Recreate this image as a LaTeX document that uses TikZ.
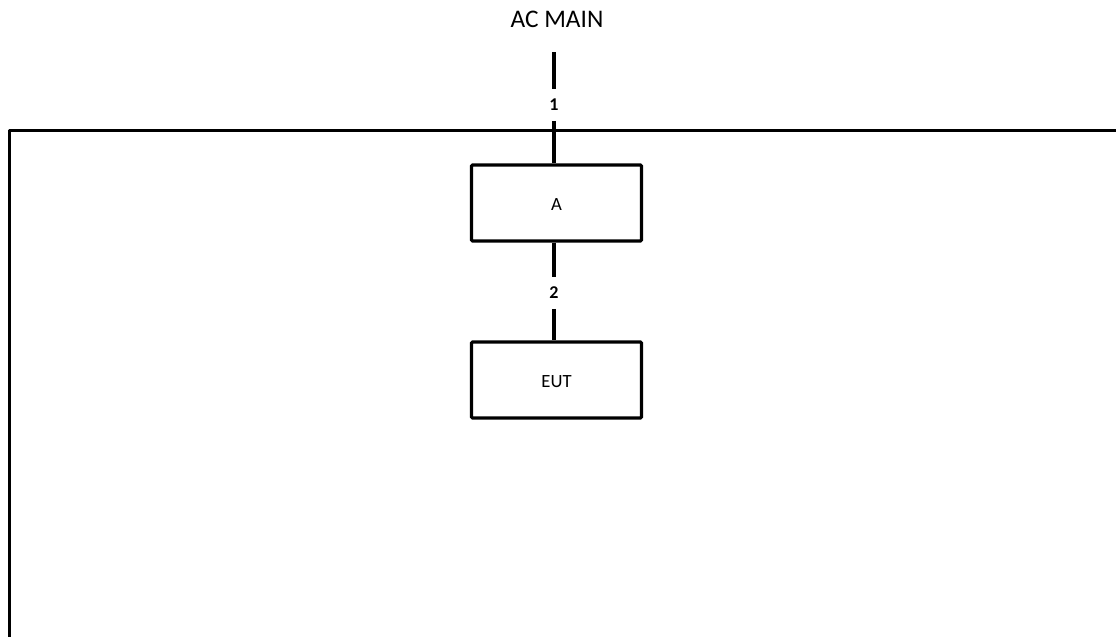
\documentclass[tikz,border=0pt]{standalone}
\usepackage{fontspec}
\setmainfont{Carlito}
\begin{document}
\begin{tikzpicture}[x=0.75pt,y=-0.75pt,
  thick line/.style={line width=2.3pt},
  unitbox/.style={draw,line width=2.3pt,minimum width=170*0.75pt,minimum height=76*0.75pt,inner sep=0pt,rounded corners=0.8pt},
  boxtext/.style={inner sep=0pt,font=\fontsize{14}{15}\selectfont},
  wirelabel/.style={inner sep=0pt,minimum height=31*0.75pt,minimum width=14*0.75pt,font=\bfseries\fontsize{13.5}{14}\selectfont},
  title/.style={font=\fontsize{19}{20}\selectfont,inner sep=0pt}]
\useasboundingbox (0,0) rectangle (1116,636);
\node[title] (acmain) at (557,19) {AC MAIN};
\coordinate (wtop) at (554,52);
\node[wirelabel] (l1) at (554,105) {1};
\node[unitbox] (a) at (556.5,203) {};
\node[boxtext] (at) at (556.5,205) {A};
\node[wirelabel] (l2) at (554,293) {2};
\node[unitbox] (eut) at (556.5,380) {};
\node[boxtext] (eutt) at (556.5,381.5) {EUT};
\coordinate (fr) at (1120,130.5);
\coordinate (fc) at (9.5,130.5);
\coordinate (fb) at (9.5,640);
\draw[thick line,line join=round] (fr) -- (fc) -- (fb);
\draw[thick line] (wtop) -- (l1.north);
\draw[thick line] (l1.south) -- (l1.south |- a.north);
\draw[thick line] (l2.north |- a.south) -- (l2.north);
\draw[thick line] (l2.south) -- (l2.south |- eut.north);
\end{tikzpicture}
\end{document}
